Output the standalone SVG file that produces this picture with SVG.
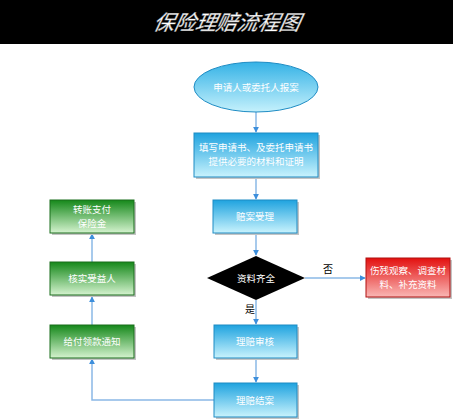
<svg xmlns="http://www.w3.org/2000/svg" width="453" height="420" viewBox="0 0 453 420">
<defs>
<linearGradient id="gBlue" x1="0" y1="0" x2="0" y2="1">
<stop offset="0" stop-color="#1fa3df"/><stop offset="1" stop-color="#c9f3fd"/>
</linearGradient>
<linearGradient id="gEll" x1="0" y1="0" x2="0" y2="1">
<stop offset="0" stop-color="#34b2e6"/><stop offset="1" stop-color="#c5f1fc"/>
</linearGradient>
<linearGradient id="gGreen" x1="0" y1="0" x2="0" y2="1">
<stop offset="0" stop-color="#15881a"/><stop offset="1" stop-color="#d5f3cf"/>
</linearGradient>
<linearGradient id="gRed" x1="0" y1="0" x2="0" y2="1">
<stop offset="0" stop-color="#e3100f"/><stop offset="1" stop-color="#f9b7b5"/>
</linearGradient>
<marker id="arr" viewBox="0 0 8 8" refX="7" refY="4" markerWidth="6" markerHeight="6" orient="auto" markerUnits="userSpaceOnUse">
<path d="M0,0 L8,4 L0,8 z" fill="#3d8fdc"/>
</marker>
</defs>
<style>
.t{font-family:"Noto Sans CJK SC","Noto Sans",sans-serif;font-size:9.5px;fill:#ffffff;text-anchor:middle;}
.lbl{font-family:"Noto Sans CJK SC","Noto Sans",sans-serif;font-size:10px;fill:#000;text-anchor:middle;}
.sh{fill:#c4c4c4;}
.blue{fill:url(#gBlue);stroke:#1e8cc4;stroke-width:1;}
.green{fill:url(#gGreen);stroke:#1a6f1c;stroke-width:1;}
.red{fill:url(#gRed);stroke:#b01010;stroke-width:1;}
.c{fill:none;stroke:#8ab8e6;stroke-width:1.5;}
</style>
<rect width="453" height="420" fill="#ffffff"/>
<g id="title">
<rect x="0" y="0" width="453" height="44" fill="#000000"/>
<text x="227" y="30" font-family="'Noto Sans CJK SC',sans-serif" font-size="21" font-style="italic" fill="#ffffff" stroke="#999" stroke-width="0.4" text-anchor="middle" transform="skewX(-12) translate(5,0)">保险理赔流程图</text>
</g>
<g id="connectors">
<line class="c" x1="256" y1="112" x2="256" y2="132" marker-end="url(#arr)"/>
<line class="c" x1="256" y1="178" x2="256" y2="199" marker-end="url(#arr)"/>
<line class="c" x1="256" y1="234" x2="256" y2="255" marker-end="url(#arr)"/>
<line class="c" x1="256" y1="300" x2="256" y2="324" marker-end="url(#arr)"/>
<line class="c" x1="256" y1="359" x2="256" y2="382" marker-end="url(#arr)"/>
<line class="c" x1="305" y1="278" x2="365" y2="278" marker-end="url(#arr)"/>
<polyline class="c" points="214,400 92,400 92,359" marker-end="url(#arr)"/>
<line class="c" x1="92" y1="325" x2="92" y2="297" marker-end="url(#arr)"/>
<line class="c" x1="92" y1="262" x2="92" y2="234" marker-end="url(#arr)"/>
<text class="lbl" x="328" y="273">否</text>
<text class="lbl" x="250" y="313">是</text>
</g>
<g id="n1">
<ellipse cx="256" cy="87" rx="62" ry="25" fill="url(#gEll)" stroke="#1e8cc4"/>
<text class="t" x="256" y="91">申请人或委托人报案</text>
</g>
<g id="n2">
<rect class="sh" x="196" y="135" width="124" height="44"/>
<rect class="blue" x="194" y="133" width="124" height="44"/>
<text class="t" x="256" y="151">填写申请书、及委托申请书</text>
<text class="t" x="256" y="165">提供必要的材料和证明</text>
</g>
<g id="n3">
<rect class="sh" x="215" y="202" width="84" height="33"/>
<rect class="blue" x="213" y="200" width="84" height="33"/>
<text class="t" x="255" y="220">赔案受理</text>
</g>
<g id="n4">
<polygon points="256,256 305,278 256,300 207,278" fill="#000000"/>
<text class="t" x="256" y="282">资料齐全</text>
</g>
<g id="n5">
<rect class="sh" x="368" y="260" width="84" height="39"/>
<rect class="red" x="366" y="258" width="84" height="39"/>
<text class="t" x="408" y="274">伤残观察、调查材</text>
<text class="t" x="408" y="288">料、补充资料</text>
</g>
<g id="n6">
<rect class="sh" x="216" y="327" width="83" height="33"/>
<rect class="blue" x="214" y="325" width="83" height="33"/>
<text class="t" x="255" y="345">理赔审核</text>
</g>
<g id="n7">
<rect class="sh" x="216" y="385" width="83" height="34"/>
<rect class="blue" x="214" y="383" width="83" height="34"/>
<text class="t" x="255" y="404">理赔结案</text>
</g>
<g id="n8">
<rect class="sh" x="52" y="327" width="84" height="33"/>
<rect class="green" x="50" y="325" width="84" height="33"/>
<text class="t" x="92" y="345">给付领款通知</text>
</g>
<g id="n9">
<rect class="sh" x="52" y="264" width="84" height="33"/>
<rect class="green" x="50" y="262" width="84" height="33"/>
<text class="t" x="92" y="282">核实受益人</text>
</g>
<g id="n10">
<rect class="sh" x="52" y="202" width="84" height="33"/>
<rect class="green" x="50" y="200" width="84" height="33"/>
<text class="t" x="92" y="213">转账支付</text>
<text class="t" x="92" y="227">保险金</text>
</g>
</svg>
